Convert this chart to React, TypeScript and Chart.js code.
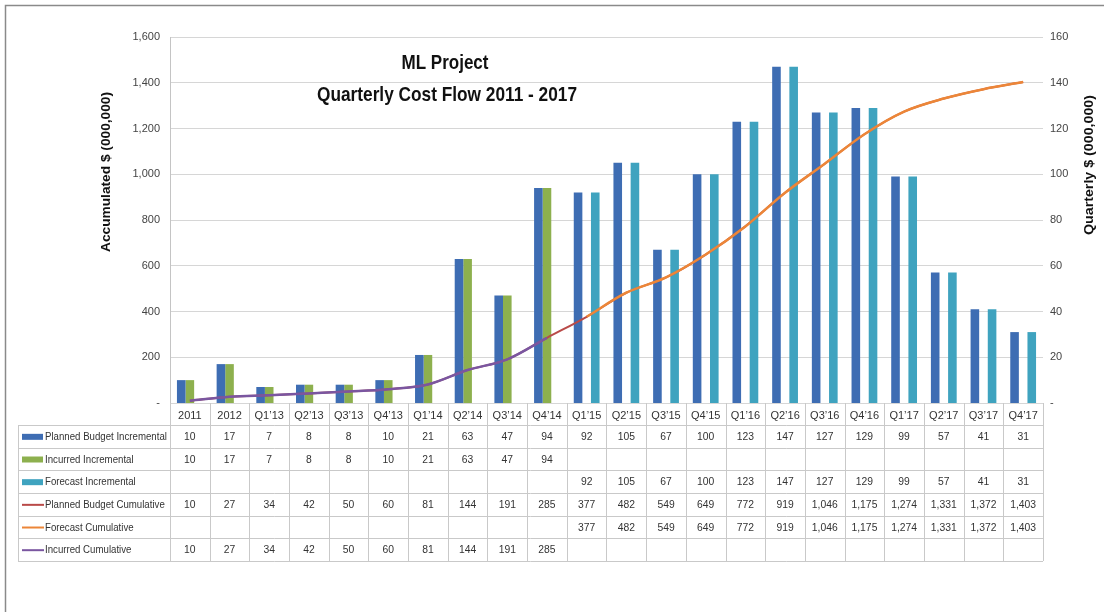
import React, { useEffect, useRef } from "react";
import { Chart, registerables } from "chart.js";

Chart.register(...registerables);

const categories = ["2011", "2012", "Q1’13", "Q2’13", "Q3’13", "Q4’13", "Q1’14", "Q2’14", "Q3’14", "Q4’14", "Q1’15", "Q2’15", "Q3’15", "Q4’15", "Q1’16", "Q2’16", "Q3’16", "Q4’16", "Q1’17", "Q2’17", "Q3’17", "Q4’17"];
const plannedIncremental = [10, 17, 7, 8, 8, 10, 21, 63, 47, 94, 92, 105, 67, 100, 123, 147, 127, 129, 99, 57, 41, 31];
const incurredIncremental = [10, 17, 7, 8, 8, 10, 21, 63, 47, 94, null, null, null, null, null, null, null, null, null, null, null, null];
const forecastIncremental = [null, null, null, null, null, null, null, null, null, null, 92, 105, 67, 100, 123, 147, 127, 129, 99, 57, 41, 31];
const plannedCumulative = [10, 27, 34, 42, 50, 60, 81, 144, 191, 285, 377, 482, 549, 649, 772, 919, 1046, 1175, 1274, 1331, 1372, 1403];
const forecastCumulative = [null, null, null, null, null, null, null, null, null, null, 377, 482, 549, 649, 772, 919, 1046, 1175, 1274, 1331, 1372, 1403];
const incurredCumulative = [10, 27, 34, 42, 50, 60, 81, 144, 191, 285, null, null, null, null, null, null, null, null, null, null, null, null];
const leftTicks = [0, 200, 400, 600, 800, 1000, 1200, 1400, 1600];
const rightTicks = [0, 20, 40, 60, 80, 100, 120, 140, 160];

const titleLines = ["ML Project", "Quarterly Cost Flow 2011 - 2017"];
const leftAxisTitle = "Accumulated $ (000,000)";
const rightAxisTitle = "Quarterly $ (000,000)";

const FONT = '"Liberation Sans", Arial, sans-serif';
const C_BLUE = "#3e6db3";
const C_GREEN = "#8db04e";
const C_TEAL = "#3fa3bf";
const C_RED = "#b94a48";
const C_ORANGE = "#ec8638";
const C_PURPLE = "#7a56a0";

const rows = [
  { label: "Planned Budget Incremental", values: plannedIncremental, color: C_BLUE, kind: "bar" },
  { label: "Incurred Incremental", values: incurredIncremental, color: C_GREEN, kind: "bar" },
  { label: "Forecast Incremental", values: forecastIncremental, color: C_TEAL, kind: "bar" },
  { label: "Planned Budget Cumulative", values: plannedCumulative, color: C_RED, kind: "line" },
  { label: "Forecast Cumulative", values: forecastCumulative, color: C_ORANGE, kind: "line" },
  { label: "Incurred Cumulative", values: incurredCumulative, color: C_PURPLE, kind: "line" },
];

function fmt(v: number) {
  return v.toLocaleString("en-US");
}

function drawScaledText(ctx: CanvasRenderingContext2D, text: string, x: number, y: number, sx: number, align: "left" | "center") {
  ctx.save();
  ctx.translate(x, y);
  ctx.scale(sx, 1);
  ctx.textAlign = align;
  ctx.fillText(text, 0, 0);
  ctx.restore();
}

function drawFitText(ctx: CanvasRenderingContext2D, text: string, x: number, y: number, targetW: number, align: "left" | "center") {
  const w = ctx.measureText(text).width;
  drawScaledText(ctx, text, x, y, targetW / w, align);
}

const framePlugin = {
  id: "frame",
  beforeDraw(chart: any) {
    const ctx = chart.ctx;
    ctx.save();
    ctx.fillStyle = "#ffffff";
    ctx.fillRect(0, 0, chart.width, chart.height);
    ctx.strokeStyle = "#8a8a8a";
    ctx.lineWidth = 1.5;
    ctx.strokeRect(5.5, 5.5, chart.width + 20, chart.height + 20);
    ctx.restore();
  },
  afterDraw(chart: any) {
    const ctx = chart.ctx;
    const area = chart.chartArea;
    const xs = chart.scales.x;
    const n = categories.length;
    const colW = (area.right - area.left) / n;
    const top = area.bottom;
    const headerH = 22;
    const rowH = 22.67;
    const tableLeft = 18;
    const rowsTop = top + headerH;
    const bottom = rowsTop + rowH * rows.length;

    ctx.save();
    ctx.strokeStyle = "#c9c9c9";
    ctx.lineWidth = 1;
    for (let i = 0; i <= n; i++) {
      const x = Math.round(xs.getPixelForValue(i) - colW / 2) + 0.5;
      ctx.beginPath();
      ctx.moveTo(x, top);
      ctx.lineTo(x, bottom);
      ctx.stroke();
    }
    ctx.beginPath();
    ctx.moveTo(tableLeft + 0.5, rowsTop);
    ctx.lineTo(tableLeft + 0.5, bottom);
    ctx.stroke();
    for (let r = 0; r <= rows.length; r++) {
      const y = Math.round(rowsTop + r * rowH) + 0.5;
      ctx.beginPath();
      ctx.moveTo(tableLeft, y);
      ctx.lineTo(area.right, y);
      ctx.stroke();
    }

    ctx.font = `11.5px ${FONT}`;
    ctx.textBaseline = "middle";
    rows.forEach((row, r) => {
      const cy = rowsTop + r * rowH + rowH / 2 + 0.5;
      if (row.kind === "bar") {
        ctx.fillStyle = row.color;
        ctx.fillRect(22, cy - 3, 21, 6);
      } else {
        ctx.strokeStyle = row.color;
        ctx.lineWidth = 2;
        ctx.beginPath();
        ctx.moveTo(22, cy);
        ctx.lineTo(44, cy);
        ctx.stroke();
      }
      ctx.fillStyle = "#333333";
      drawScaledText(ctx, row.label, 45, cy, 0.84, "left");
      row.values.forEach((v, i) => {
        if (v === null || v === undefined) return;
        drawScaledText(ctx, fmt(v as number), xs.getPixelForValue(i), cy, 0.9, "center");
      });
    });

    ctx.fillStyle = "#111111";
    ctx.textBaseline = "middle";
    ctx.font = `bold 21px ${FONT}`;
    drawFitText(ctx, titleLines[0], 445, 63, 87, "center");
    drawFitText(ctx, titleLines[1], 447, 95, 260, "center");

    ctx.font = `bold 13px ${FONT}`;
    ctx.fillStyle = "#111111";
    ctx.save();
    ctx.translate(106, 172);
    ctx.rotate(-Math.PI / 2);
    drawFitText(ctx, leftAxisTitle, 0, 0, 160, "center");
    ctx.restore();
    ctx.save();
    ctx.translate(1089, 165);
    ctx.rotate(-Math.PI / 2);
    drawFitText(ctx, rightAxisTitle, 0, 0, 140, "center");
    ctx.restore();

    ctx.restore();
  },
};

export default function App() {
  const ref = useRef<HTMLCanvasElement | null>(null);
  useEffect(() => {
    if (!ref.current) return;
    const tickFont = { family: FONT, size: 11 };
    const chart = new Chart(ref.current, {
      type: "bar",
      data: {
        labels: categories,
        datasets: [
          { type: "line", label: "Incurred Cumulative", data: incurredCumulative, yAxisID: "y", borderColor: C_PURPLE, backgroundColor: C_PURPLE, borderWidth: 2.5, pointRadius: 0, cubicInterpolationMode: "monotone", order: 0 } as any,
          { type: "line", label: "Forecast Cumulative", data: forecastCumulative, yAxisID: "y", borderColor: C_ORANGE, backgroundColor: C_ORANGE, borderWidth: 2.5, pointRadius: 0, cubicInterpolationMode: "monotone", order: 1 } as any,
          { type: "line", label: "Planned Budget Cumulative", data: plannedCumulative, yAxisID: "y", borderColor: C_RED, backgroundColor: C_RED, borderWidth: 2, pointRadius: 0, cubicInterpolationMode: "monotone", order: 2 } as any,
          { type: "bar", label: "Planned Budget Incremental", data: plannedIncremental, yAxisID: "y1", backgroundColor: C_BLUE, order: 3, barPercentage: 1, categoryPercentage: 0.65 } as any,
          { type: "bar", label: "Incurred Incremental", data: incurredIncremental, yAxisID: "y1", backgroundColor: C_GREEN, order: 4, barPercentage: 1, categoryPercentage: 0.65 } as any,
          { type: "bar", label: "Forecast Incremental", data: forecastIncremental, yAxisID: "y1", backgroundColor: C_TEAL, order: 5, barPercentage: 1, categoryPercentage: 0.65 } as any,
        ],
      },
      options: {
        responsive: false,
        animation: false,
        layout: { padding: { top: 37, left: 0, right: 0, bottom: 0 } },
        plugins: { legend: { display: false }, tooltip: { enabled: false }, title: { display: false } },
        scales: {
          x: {
            grid: { display: false, drawTicks: false },
            border: { display: false },
            ticks: { font: tickFont, color: "#333333", padding: 6, maxRotation: 0, autoSkip: false },
            afterFit: (s: any) => { s.height = 612 - 403; },
          },
          y: {
            position: "left",
            min: 0,
            max: 1600,
            afterBuildTicks: (s: any) => { s.ticks = leftTicks.map((v) => ({ value: v })); },
            grid: { color: "#d6d6d6", drawTicks: false },
            border: { display: true, color: "#c4c4c4" },
            ticks: { font: tickFont, color: "#444444", padding: 10, callback: (v: any) => (v === 0 ? "-" : fmt(v)) },
            afterFit: (s: any) => { s.width = 170; },
          },
          y1: {
            position: "right",
            min: 0,
            max: 160,
            afterBuildTicks: (s: any) => { s.ticks = rightTicks.map((v) => ({ value: v })); },
            grid: { display: false, drawTicks: false },
            border: { display: false },
            ticks: { font: tickFont, color: "#444444", padding: 7, callback: (v: any) => (v === 0 ? "-" : fmt(v)) },
            afterFit: (s: any) => { s.width = 1104 - 1043; },
          },
        },
      },
      plugins: [framePlugin],
    });
    return () => chart.destroy();
  }, []);
  return (
    <div style={{ position: "absolute", left: 0, top: 0, width: 1104, height: 612 }}>
      <canvas ref={ref} width={1104} height={612} />
    </div>
  );
}
